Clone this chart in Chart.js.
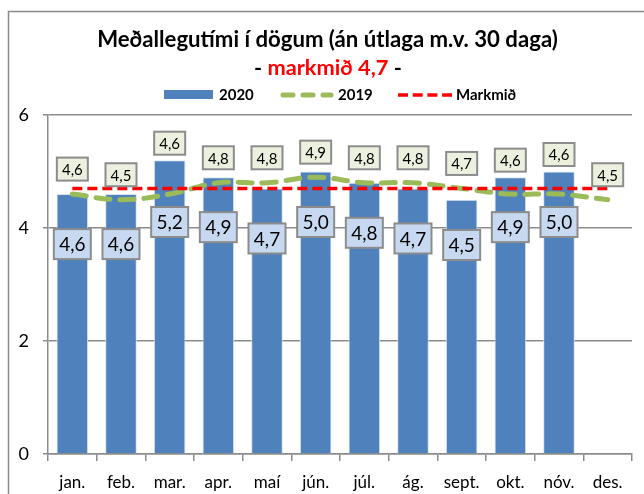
<!DOCTYPE html>
<html>
<head>
<meta charset="utf-8">
<script src="https://cdn.jsdelivr.net/npm/chart.js@4/dist/chart.umd.min.js"></script>
<style>
  html, body { margin: 0; padding: 0; background: #ffffff; }
  canvas { display: block; }
</style>
</head>
<body>
<canvas id="c" width="644" height="494"></canvas>
<script>
// ---- Data ----
const categories = ['jan.', 'feb.', 'mar.', 'apr.', 'maí', 'jún.', 'júl.', 'ág.', 'sept.', 'okt.', 'nóv.', 'des.'];
const values2020 = [4.6, 4.6, 5.2, 4.9, 4.7, 5.0, 4.8, 4.7, 4.5, 4.9, 5.0, null];
const values2019 = [4.6, 4.5, 4.6, 4.8, 4.8, 4.9, 4.8, 4.8, 4.7, 4.6, 4.6, 4.5];
const targetValues = [4.7, 4.7, 4.7, 4.7, 4.7, 4.7, 4.7, 4.7, 4.7, 4.7, 4.7, 4.7];
const yTickValues = [0, 2, 4, 6];
const titleText = 'Meðallegutími í dögum (án útlaga m.v. 30 daga)';
const subtitleParts = ['- ', 'markmið 4,7', ' -'];
const seriesNames = ['2020', '2019', 'Markmið'];

const FONT = 'Lato, "Open Sans", sans-serif';
const fmt = v => v.toFixed(1).replace('.', ',');

function fitSize(ctx, text, weight, targetW) {
  ctx.font = weight + ' 100px ' + FONT;
  const w = ctx.measureText(text).width;
  return 100 * targetW / w;
}

function box(ctx, cx, cy, w, h, fill, text, fontSize) {
  ctx.save();
  ctx.fillStyle = fill;
  ctx.fillRect(cx - w / 2, cy - h / 2, w, h);
  ctx.strokeStyle = '#8c8c8c';
  ctx.lineWidth = 2;
  ctx.strokeRect(cx - w / 2, cy - h / 2, w, h);
  ctx.fillStyle = '#000';
  ctx.font = fontSize + 'px ' + FONT;
  ctx.textAlign = 'center';
  ctx.textBaseline = 'middle';
  ctx.fillText(text, cx, cy + 1);
  ctx.restore();
}

const decorPlugin = {
  id: 'decor',
  beforeDraw(chart) {
    const ctx = chart.ctx;
    ctx.save();
    ctx.fillStyle = '#fff';
    ctx.fillRect(0, 0, chart.width, chart.height);
    ctx.strokeStyle = '#8a8a8a';
    ctx.lineWidth = 1.5;
    ctx.strokeRect(8.5, 11.5, 800, 600);
    ctx.restore();
  },
  afterDatasetsDraw(chart) {
    const ctx = chart.ctx;
    const bars = chart.getDatasetMeta(2).data;
    const line19 = chart.getDatasetMeta(1).data;
    // 2020 labels
    values2020.forEach((v, i) => {
      if (v == null) return;
      const b = bars[i];
      let cy = b.y + 50;
      cy = Math.max(222, Math.min(245, cy));
      box(ctx, b.x, cy, 37, 30, '#c6d9f1', fmt(v), 19);
    });
    // 2019 labels
    values2019.forEach((v, i) => {
      const p = line19[i];
      let cy = p.y - 25;
      if (values2020[i] != null) cy = Math.min(cy, bars[i].y - 17);
      box(ctx, p.x, cy, 31, 23, '#ebf1de', fmt(v), 15);
    });
  },
  afterDraw(chart) {
    const ctx = chart.ctx;
    ctx.save();
    // Title
    const ts = fitSize(ctx, titleText, 'bold', 461);
    ctx.font = 'bold ' + ts + 'px ' + FONT;
    ctx.fillStyle = '#000';
    ctx.textAlign = 'center';
    ctx.textBaseline = 'middle';
    ctx.fillText(titleText, 327.5, 40);
    // Subtitle
    const full = subtitleParts.join('');
    const ss = fitSize(ctx, full, 'bold', 148);
    ctx.font = 'bold ' + ss + 'px ' + FONT;
    ctx.textAlign = 'left';
    let x = 254;
    const colors = ['#000', '#ff0000', '#000'];
    subtitleParts.forEach((p, k) => {
      ctx.fillStyle = colors[k];
      ctx.fillText(p, x, 68);
      x += ctx.measureText(p).width;
    });
    // Legend
    const ly = 95;
    ctx.fillStyle = '#4f81bd';
    ctx.fillRect(164, 90, 49, 9);
    ctx.font = 'bold 15px ' + FONT;
    ctx.fillStyle = '#000';
    ctx.textBaseline = 'middle';
    ctx.fillText(seriesNames[0], 219, ly);
    ctx.fillText(seriesNames[1], 338, ly);
    ctx.fillText(seriesNames[2], 456, ly);
    ctx.lineCap = 'round';
    ctx.strokeStyle = '#9bbb59';
    ctx.lineWidth = 5;
    ctx.setLineDash([10, 10]);
    ctx.beginPath(); ctx.moveTo(283, ly); ctx.lineTo(331, ly); ctx.stroke();
    ctx.lineCap = 'butt';
    ctx.strokeStyle = '#ff0000';
    ctx.lineWidth = 3.5;
    ctx.setLineDash([10, 4.7]);
    ctx.beginPath(); ctx.moveTo(398, ly); ctx.lineTo(452, ly); ctx.stroke();
    ctx.restore();
  }
};

new Chart(document.getElementById('c'), {
  type: 'bar',
  data: {
    labels: categories,
    datasets: [
      {
        type: 'line', label: seriesNames[2], data: targetValues,
        borderColor: '#ff0000', borderWidth: 3.5, borderDash: [10, 5],
        pointRadius: 0, fill: false, order: 0
      },
      {
        type: 'line', label: seriesNames[1], data: values2019,
        borderColor: '#9bbb59', borderWidth: 5, borderDash: [14, 10],
        borderCapStyle: 'round', tension: 0.4,
        pointRadius: 0, fill: false, order: 1
      },
      {
        type: 'bar', label: seriesNames[0], data: values2020,
        backgroundColor: '#4f81bd', borderColor: '#dbe5f1', borderWidth: 1,
        barPercentage: 0.65, categoryPercentage: 1, order: 2
      }
    ]
  },
  options: {
    responsive: false,
    animation: false,
    events: [],
    layout: { padding: { top: 115, right: 12, left: 0, bottom: 0 } },
    plugins: { legend: { display: false }, title: { display: false }, tooltip: { enabled: false } },
    scales: {
      x: {
        offset: true,
        grid: { offset: true, drawOnChartArea: false, color: '#8c8c8c', lineWidth: 1.5, tickLength: 7 },
        border: { color: '#8c8c8c', width: 1.5 },
        ticks: { font: { family: FONT, size: 17 }, color: '#000', padding: 11, maxRotation: 0, autoSkip: false },
        afterFit(s) { s.height = 40; }
      },
      y: {
        min: 0, max: 6,
        afterBuildTicks(s) { s.ticks = yTickValues.map(v => ({ value: v })); },
        grid: { color: '#8c8c8c', lineWidth: 1.5, tickLength: 5 },
        border: { color: '#8c8c8c', width: 1.5 },
        ticks: { font: { family: FONT, size: 18 }, color: '#000', padding: 14 },
        afterFit(s) { s.width = 48; }
      }
    }
  },
  plugins: [decorPlugin]
});
</script>
</body>
</html>
